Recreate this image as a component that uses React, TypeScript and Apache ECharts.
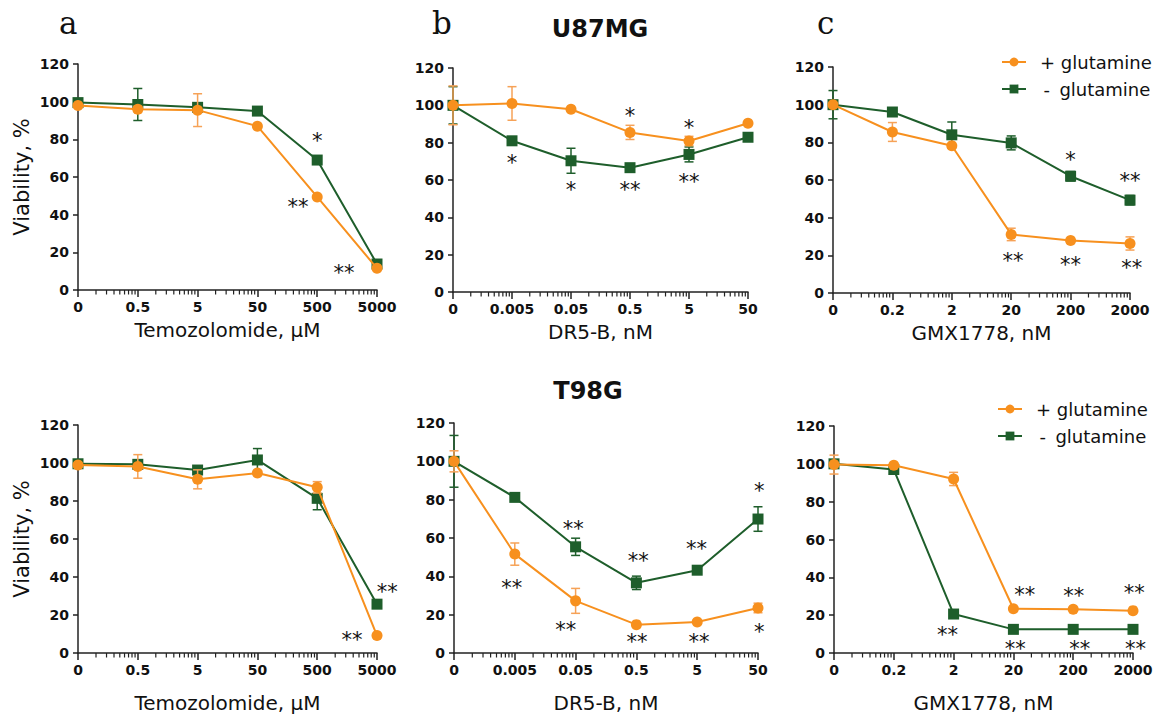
import React, { useEffect, useRef } from "react";
import * as echarts from "echarts";

const ORANGE = "#F7901E";
const ORANGE_ERR = "#F6A257";
const GREEN = "#1E5E2B";
const INK = "#111111";
const AXIS = "#222222";
const FONT = "DejaVu Sans";

const PLUS = "+ glutamine";
const MINUS = "- glutamine";

const TMZ_TICKS = ["0", "0.5", "5", "50", "500", "5000"];
const DR5_TICKS = ["0", "0.005", "0.05", "0.5", "5", "50"];
const GMX_TICKS = ["0", "0.2", "2", "20", "200", "2000"];

// U87MG
const U87_TMZ_PLUS = [98, 96, 95.5, 87, 49.4, 11.5];
const U87_TMZ_PLUS_ERR = [0, 1.5, 8.7, 0, 0, 0];
const U87_TMZ_MINUS = [99.5, 98.5, 97, 95, 69, 13.8];
const U87_TMZ_MINUS_ERR = [0, 8.5, 0, 0, 0, 0];
const U87_TMZ_ANN: [number, number, string][] = [[4, 81.4, "*"], [3.68, 46.4, "**"], [4.45, 11.7, "**"]];

const U87_DR5_PLUS = [100, 101, 97.9, 85.5, 80.9, 90.4];
const U87_DR5_PLUS_ERR = [10.4, 9, 0, 3.8, 2.5, 0];
const U87_DR5_MINUS = [100, 81, 70.3, 66.6, 73.7, 82.9];
const U87_DR5_MINUS_ERR = [10, 0, 6.7, 0, 4, 0];
const U87_DR5_ANN: [number, number, string][] = [
  [1, 71.6, "*"], [2, 57.3, "*"], [3, 57.3, "**"], [4, 61.2, "**"], [3, 97, "*"], [4, 90.4, "*"],
];

const U87_GMX_PLUS = [100, 85.5, 78.2, 31.1, 27.9, 26.3];
const U87_GMX_PLUS_ERR = [0, 5, 0, 3.3, 0, 3.5];
const U87_GMX_MINUS = [100, 96.1, 84, 79.7, 62, 49.3];
const U87_GMX_MINUS_ERR = [7.5, 0, 6.8, 3.7, 2.5, 2.5];
const U87_GMX_ANN: [number, number, string][] = [
  [4, 73.2, "*"], [5, 62, "**"], [3.03, 19.2, "**"], [4, 17.5, "**"], [5.03, 15.7, "**"],
];

// T98G
const T98_TMZ_PLUS = [98.9, 98.2, 91.4, 94.7, 87.2, 9.2];
const T98_TMZ_PLUS_ERR = [0, 6.2, 5, 0, 3, 0];
const T98_TMZ_MINUS = [99.6, 99.3, 96.3, 101.6, 81.4, 25.7];
const T98_TMZ_MINUS_ERR = [0, 0, 0, 6, 6, 0];
const T98_TMZ_ANN: [number, number, string][] = [[5.17, 34.8, "**"], [4.58, 9.3, "**"]];

const T98_DR5_PLUS = [100, 51.6, 27.2, 14.8, 16.2, 23.5];
const T98_DR5_PLUS_ERR = [5.5, 5.8, 6.5, 0, 0, 2.5];
const T98_DR5_MINUS = [100, 81.2, 55.4, 36.6, 43.2, 69.9];
const T98_DR5_MINUS_ERR = [13.5, 0, 4.5, 3.5, 0, 6.4];
const T98_DR5_ANN: [number, number, string][] = [
  [0.95, 36.3, "**"], [1.84, 14.5, "**"], [3.01, 8.4, "**"], [4.03, 8.4, "**"], [5.02, 13.6, "*"],
  [1.96, 67.2, "**"], [3.03, 50.5, "**"], [3.99, 56.8, "**"], [5.02, 86.7, "*"],
];

const T98_GMX_PLUS = [99.6, 99.2, 92, 23.4, 23.1, 22.4];
const T98_GMX_PLUS_ERR = [5, 0, 3.5, 0, 0, 0];
const T98_GMX_MINUS = [100, 97, 20.6, 12.5, 12.5, 12.5];
const T98_GMX_MINUS_ERR = [0, 0, 0, 0, 0, 0];
const T98_GMX_ANN: [number, number, string][] = [
  [3.19, 33.3, "**"], [4.01, 32.8, "**"], [5.02, 34, "**"],
  [1.9, 12.2, "**"], [3.03, 4.8, "**"], [4.11, 4.8, "**"], [5.04, 4.8, "**"],
];

const Y_TICK_STEP = 20;
const Y_MAX = 120;

// log-decade minor tick positions on the x axis (axis decoration)
const MINOR_TICKS: number[] = [];
for (let d = 0; d < 5; d++) for (let k = 2; k <= 9; k++) MINOR_TICKS.push(d + Math.log10(k));

type Panel = {
  box: [number, number, number, number];
  ticks: string[];
  xName: string;
  nameGap: number;
  yName: boolean;
  plus: number[];
  plusErr: number[];
  minus: number[];
  minusErr: number[];
  ann: [number, number, string][];
};

const PANELS: Panel[] = [
  { box: [78, 64, 299, 226], ticks: TMZ_TICKS, xName: "Temozolomide, µM", nameGap: 30, yName: true,
    plus: U87_TMZ_PLUS, plusErr: U87_TMZ_PLUS_ERR, minus: U87_TMZ_MINUS, minusErr: U87_TMZ_MINUS_ERR, ann: U87_TMZ_ANN },
  { box: [453, 68, 295, 224], ticks: DR5_TICKS, xName: "DR5-B, nM", nameGap: 30, yName: false,
    plus: U87_DR5_PLUS, plusErr: U87_DR5_PLUS_ERR, minus: U87_DR5_MINUS, minusErr: U87_DR5_MINUS_ERR, ann: U87_DR5_ANN },
  { box: [833, 67, 297, 226], ticks: GMX_TICKS, xName: "GMX1778, nM", nameGap: 30, yName: false,
    plus: U87_GMX_PLUS, plusErr: U87_GMX_PLUS_ERR, minus: U87_GMX_MINUS, minusErr: U87_GMX_MINUS_ERR, ann: U87_GMX_ANN },
  { box: [78, 425, 299, 228], ticks: TMZ_TICKS, xName: "Temozolomide, µM", nameGap: 40, yName: true,
    plus: T98_TMZ_PLUS, plusErr: T98_TMZ_PLUS_ERR, minus: T98_TMZ_MINUS, minusErr: T98_TMZ_MINUS_ERR, ann: T98_TMZ_ANN },
  { box: [454, 423, 304, 230], ticks: DR5_TICKS, xName: "DR5-B, nM", nameGap: 40, yName: false,
    plus: T98_DR5_PLUS, plusErr: T98_DR5_PLUS_ERR, minus: T98_DR5_MINUS, minusErr: T98_DR5_MINUS_ERR, ann: T98_DR5_ANN },
  { box: [834, 426, 299, 227], ticks: GMX_TICKS, xName: "GMX1778, nM", nameGap: 40, yName: false,
    plus: T98_GMX_PLUS, plusErr: T98_GMX_PLUS_ERR, minus: T98_GMX_MINUS, minusErr: T98_GMX_MINUS_ERR, ann: T98_GMX_ANN },
];

function errRenderer(color: string) {
  return (params: any, api: any) => {
    const x = api.value(0);
    const y = api.value(1);
    const e = api.value(2);
    if (!e) return { type: "group", children: [] };
    const top = api.coord([x, y + e]);
    const bot = api.coord([x, y - e]);
    const hw = 4.5;
    const style = { stroke: color, lineWidth: 1.5 };
    return {
      type: "group",
      children: [
        { type: "line", shape: { x1: top[0], y1: top[1], x2: bot[0], y2: bot[1] }, style },
        { type: "line", shape: { x1: top[0] - hw, y1: top[1], x2: top[0] + hw, y2: top[1] }, style },
        { type: "line", shape: { x1: bot[0] - hw, y1: bot[1], x2: bot[0] + hw, y2: bot[1] }, style },
      ],
    };
  };
}

function annRenderer(ann: [number, number, string][]) {
  const fs = 21;
  return (params: any, api: any) => {
    const p = api.coord([api.value(0), api.value(1)]);
    return {
      type: "text",
      x: p[0],
      y: p[1] + fs * 0.22,
      style: {
        text: ann[params.dataIndex][2],
        fontSize: fs,
        fontFamily: FONT,
        fill: INK,
        align: "center",
        verticalAlign: "middle",
      },
    };
  };
}

const letterStyle = { fontFamily: "DejaVu Serif", fontSize: 31, fill: INK };
const titleStyle = { fontFamily: FONT, fontSize: 24, fontWeight: "bold", fill: INK, align: "center" };
const BASE_GRAPHIC: any[] = [
  { type: "text", left: 59, top: 7, style: { ...letterStyle, text: "a" } },
  { type: "text", left: 432, top: 7, style: { ...letterStyle, text: "b" } },
  { type: "text", left: 817, top: 7, style: { ...letterStyle, text: "c" } },
  { type: "text", x: 600, y: 17, style: { ...titleStyle, text: "U87MG" } },
  { type: "text", x: 588, y: 379, style: { ...titleStyle, text: "T98G" } },
];

function buildOption() {
  const grid: any[] = [];
  const xAxis: any[] = [];
  const yAxis: any[] = [];
  const series: any[] = [];
  const axisLineStyle = { color: AXIS, width: 1.5 };

  PANELS.forEach((p, i) => {
    grid.push({ left: p.box[0], top: p.box[1], width: p.box[2], height: p.box[3], containLabel: false, outerBoundsMode: "none" });
    xAxis.push({
      type: "value", gridIndex: i, min: 0, max: 5, interval: 1, position: "bottom",
      axisLine: { show: true, onZero: false, lineStyle: axisLineStyle },
      axisTick: { show: true, length: 7, lineStyle: axisLineStyle },
      axisLabel: {
        formatter: (v: number) => p.ticks[Math.round(v)] ?? "",
        fontFamily: FONT, fontWeight: "bold", fontSize: 14, color: INK, margin: 10,
      },
      splitLine: { show: false },
      name: p.xName, nameLocation: "middle", nameGap: p.nameGap,
      nameTextStyle: { fontFamily: FONT, fontSize: 20, color: INK },
    });
    yAxis.push({
      type: "value", gridIndex: i, min: 0, max: Y_MAX, interval: Y_TICK_STEP,
      axisLine: { show: true, lineStyle: axisLineStyle },
      axisTick: { show: true, length: 5, lineStyle: axisLineStyle },
      axisLabel: { fontFamily: FONT, fontWeight: "bold", fontSize: 14, color: INK, margin: 9 },
      splitLine: { show: false },
      name: p.yName ? "Viability, %" : "", nameLocation: "middle", nameGap: 46, nameRotate: 90,
      nameTextStyle: { fontFamily: FONT, fontSize: 21, color: INK },
    });

    series.push({
      type: "custom", xAxisIndex: i, yAxisIndex: i, silent: true, clip: false, z: 2,
      data: p.minus.map((v, k) => [k, v, p.minusErr[k]]),
      encode: { x: 0, y: 1 },
      renderItem: errRenderer(GREEN),
    });
    series.push({
      type: "line", name: MINUS, xAxisIndex: i, yAxisIndex: i, clip: false, z: 3,
      data: p.minus.map((v, k) => [k, v]),
      symbol: "rect", symbolSize: 11,
      lineStyle: { color: GREEN, width: 2 },
      itemStyle: { color: GREEN },
    });
    series.push({
      type: "custom", xAxisIndex: i, yAxisIndex: i, silent: true, clip: false, z: 4,
      data: p.plus.map((v, k) => [k, v, p.plusErr[k]]),
      encode: { x: 0, y: 1 },
      renderItem: errRenderer(ORANGE_ERR),
    });
    series.push({
      type: "line", name: PLUS, xAxisIndex: i, yAxisIndex: i, clip: false, z: 5,
      data: p.plus.map((v, k) => [k, v]),
      symbol: "circle", symbolSize: 11,
      lineStyle: { color: ORANGE, width: 2 },
      itemStyle: { color: ORANGE },
    });
    series.push({
      type: "custom", xAxisIndex: i, yAxisIndex: i, silent: true, clip: false, z: 6,
      data: p.ann.map((a) => [a[0], a[1]]),
      encode: { x: 0, y: 1 },
      renderItem: annRenderer(p.ann),
    });
  });

  const legendBase = {
    orient: "vertical",
    data: [PLUS, MINUS],
    itemWidth: 24,
    itemHeight: 11,
    itemGap: 9,
    selectedMode: false,
    formatter: (name: string) => (name === MINUS ? "\u2009-\u2009 glutamine" : name),
    textStyle: { fontFamily: FONT, fontSize: 18, color: INK, padding: [0, 0, 0, 9] },
  };

  return {
    animation: false,
    backgroundColor: "#ffffff",
    grid,
    xAxis,
    yAxis,
    series,
    legend: [
      { ...legendBase, left: 996, top: 48 },
      { ...legendBase, left: 992, top: 395 },
    ],
    graphic: BASE_GRAPHIC,
  };
}

export default function App() {
  const ref = useRef<HTMLDivElement>(null);
  useEffect(() => {
    if (!ref.current) return;
    const chart = echarts.init(ref.current, undefined, { renderer: "svg" });
    chart.setOption(buildOption() as any);
    // minor (log-decade) ticks, positioned through each panel's own x scale
    const minor: any[] = [];
    PANELS.forEach((p, i) => {
      MINOR_TICKS.forEach((v) => {
        const pt = chart.convertToPixel({ xAxisIndex: i, yAxisIndex: i } as any, [v, 0]) as number[];
        if (!pt) return;
        minor.push({
          type: "line",
          silent: true,
          shape: { x1: pt[0], y1: pt[1], x2: pt[0], y2: pt[1] + 4.5 },
          style: { stroke: AXIS, lineWidth: 1.2 },
        });
      });
    });
    chart.setOption({ graphic: [...BASE_GRAPHIC, ...minor] } as any);
    return () => chart.dispose();
  }, []);
  return (
    <div
      ref={ref}
      style={{ position: "absolute", left: 0, top: 0, width: 1159, height: 717, background: "#fff" }}
    />
  );
}
